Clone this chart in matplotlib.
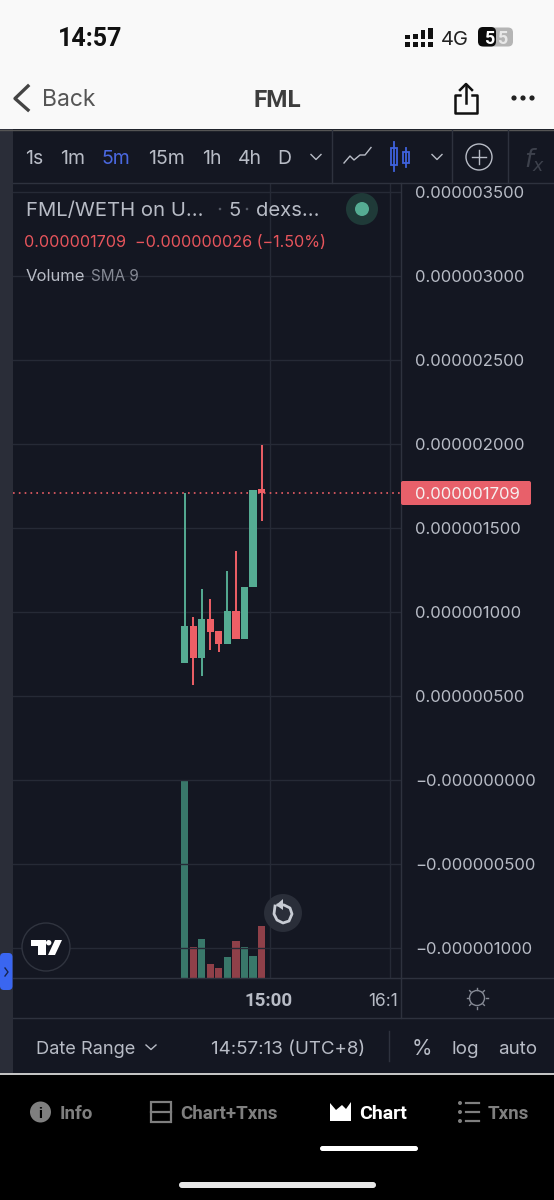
import matplotlib
matplotlib.use("Agg")
import matplotlib.pyplot as plt
from matplotlib.patches import Rectangle, Circle, FancyBboxPatch, Polygon
from matplotlib.ticker import FuncFormatter

plt.rcParams['font.family'] = ['Inter', 'DejaVu Sans']

# prices in millionths
opens = [0.695, 0.918, 0.728, 0.958, 0.885, 0.808, 1.004, 0.841, 1.151, 1.735]
closes = [0.918, 0.728, 0.958, 0.883, 0.808, 1.004, 0.841, 1.151, 1.729, 1.709]
highs = [1.708, 0.968, 1.135, 1.076, 0.885, 1.246, 1.363, 1.151, 1.729, 1.992]
lows = [0.695, 0.565, 0.619, 0.774, 0.764, 0.808, 0.841, 0.841, 1.151, 1.540]
volumes = [100, 15.5, 19.5, 6.9, 5.2, 10.6, 18.5, 15.5, 11.1, 26.3]
last_price = 1.709

price_ticks = [-1.0, -0.5, 0.0, 0.5, 1.0, 1.5, 2.0, 2.5, 3.0, 3.5]
time_ticks = [10, 24]

BG = '#141722'
GRID = '#262a36'
LINE = '#2e323e'
GREEN = '#55ac93'
RED = '#ee5f66'
VOL_GREEN = '#39786a'
VOL_RED = '#8f4049'
TXT = '#b8bcc6'
BOLD = ['Roboto', 'DejaVu Sans']
W, H = 554, 1200


def px_axes(zorder):
    a = fig.add_axes([0, 0, 1, 1], zorder=zorder)
    a.set_xlim(0, W)
    a.set_ylim(H, 0)
    a.axis('off')
    a.patch.set_alpha(0)
    return a


def label(a, x, y, s, size=13, color=TXT, ha='left', weight='normal', **kw):
    if weight == 'bold':
        kw['family'] = BOLD
    a.text(x, y, s, fontsize=size, color=color, ha=ha, va='center_baseline', weight=weight, **kw)


fig = plt.figure(figsize=(W / 100, H / 100), dpi=100, facecolor='#000000')

# page chrome behind the chart
bg = px_axes(0)
bg.add_patch(Rectangle((0, 0), W, 129, color='#f9f9f9', lw=0))
bg.add_patch(Rectangle((0, 129), W, 945, color=BG, lw=0))
bg.add_patch(Rectangle((0, 129), 13, 945, color='#2a2d38', lw=0))
bg.add_patch(Rectangle((0, 1073), W, 2, color='#c4c4c4', lw=0))
bg.plot([0, W], [129.5, 129.5], color='#555555', lw=1)

# chart, laid out so the scale matches the pixel rows of the screenshot
left, right, top, bottom = 13, 401, 183, 978
pos = [left / W, 1 - bottom / H, (right - left) / W, (bottom - top) / H]
ax = fig.add_axes(pos, zorder=2)
ax.patch.set_alpha(0)
ax.set_xlim((left - 184.7) / 8.54, (right - 184.7) / 8.54)
ax.set_ylim((780 - bottom) / 168, (780 - top) / 168)
ax.set_yticks(price_ticks)
ax.yaxis.tick_right()
ax.yaxis.set_major_formatter(FuncFormatter(
    lambda v, p: ('\u2212' if v <= 0 else '') + '%.9f' % (abs(v) / 1e6)))
ax.set_xticks(time_ticks)
ax.set_xticklabels([])
ax.tick_params(axis='y', length=0, pad=10, labelsize=12, labelcolor=TXT)
ax.tick_params(axis='x', length=0)
ax.grid(True, color=GRID, lw=1)
ax.set_axisbelow(True)
for s in ['top', 'left']:
    ax.spines[s].set_visible(False)
for s in ['right', 'bottom']:
    ax.spines[s].set_color(LINE)
    ax.spines[s].set_linewidth(1)

xs = list(range(len(opens)))
ax_vol = fig.add_axes(pos, zorder=1.5, sharex=ax)
ax_vol.patch.set_alpha(0)
ax_vol.axis('off')
ax_vol.set_ylim(0, 100 * (bottom - top) / 198)
vol_colors = [VOL_GREEN if c >= o else VOL_RED for o, c in zip(opens, closes)]
ax_vol.bar(xs, volumes, width=0.84, color=vol_colors, lw=0)

colors = [GREEN if c >= o else RED for o, c in zip(opens, closes)]
ax.vlines(xs, lows, highs, colors=colors, lw=1.4, zorder=3)
ax.bar(xs, [abs(c - o) for o, c in zip(opens, closes)],
       bottom=[min(o, c) for o, c in zip(opens, closes)],
       width=0.85, color=colors, lw=0, zorder=4)
ax.axhline(last_price, color=RED, lw=1.2, ls=(0, (1, 2.5)), zorder=2)

# things on top of the chart
fg = px_axes(5)

# status bar
label(fg, 90, 37, '14:57', size=18, color='#111111', ha='center', weight='bold')
upper = [(35, 39), (34, 39), (30, 39), (28, 39)]
for i, (y0, y1) in enumerate(upper):
    cx = 407.5 + i * 7.7
    fg.add_patch(Rectangle((cx - 2.4, y0), 4.8, y1 - y0, color='#111111', lw=0))
    fg.add_patch(Rectangle((cx - 2.4, 42), 4.8, 5, color='#111111', lw=0))
label(fg, 455, 38, '4G', size=14.5, color='#222222', ha='center')
fg.add_patch(FancyBboxPatch((480, 27.5), 33, 19, boxstyle='round,pad=0,rounding_size=5',
                            color='#b5b5b5', lw=0))
fg.add_patch(FancyBboxPatch((478, 27), 18, 19.5, boxstyle='round,pad=0,rounding_size=5',
                            color='#0c0c0c', lw=0))
label(fg, 489, 37.5, '5', size=13, color='white', ha='center', weight='bold')
label(fg, 502, 37.5, '5', size=13, color='#e8e8e8', ha='center', weight='bold')

# nav bar
fg.plot([28, 15, 28], [86, 98.5, 110], color='#444444', lw=2.4)
label(fg, 42, 98, 'Back', size=16.5, color='#555555')
label(fg, 277, 98, 'FML', size=17.5, color='#3d3d3d', ha='center', weight='bold')
fg.plot([460, 455, 455, 477, 477, 472], [95, 95, 112.5, 112.5, 95, 95], color='#111111', lw=1.8)
fg.plot([466, 466], [103, 85], color='#111111', lw=1.8)
fg.plot([460, 466, 472], [90, 84, 90], color='#111111', lw=1.8)
for cx in [514, 523, 532]:
    fg.add_patch(Circle((cx, 98), 2.6, color='#222222', lw=0))

# toolbar
for s, cx in [('1s', 34), ('1m', 73), ('5m', 116), ('15m', 166), ('1h', 212), ('4h', 250), ('D', 284)]:
    label(fg, cx, 157, s, size=14, color='#4a68e0' if s == '5m' else TXT, ha='center')
for cx in [316, 437]:
    fg.plot([cx - 5, cx, cx + 5], [154.5, 159.5, 154.5], color=TXT, lw=1)
for cx in [332, 452, 508]:
    fg.plot([cx, cx], [130, 183], color=LINE, lw=1)
fg.plot([13, W], [183, 183], color=LINE, lw=1)
fg.plot([344, 350, 354, 360, 365, 371], [163, 156, 160, 155, 155, 147.5], color=TXT, lw=1)
fg.plot([394, 394], [142, 171], color='#3f62dd', lw=1.3)
fg.add_patch(Rectangle((391, 148), 6, 17, fill=False, ec='#3f62dd', lw=1.3))
fg.plot([406, 406], [148, 167], color='#3f62dd', lw=1.3)
fg.add_patch(Rectangle((403, 152), 6, 11, fill=False, ec='#3f62dd', lw=1.3))
fg.add_patch(Circle((479, 157), 13, fill=False, ec=TXT, lw=1))
fg.plot([472, 486], [157, 157], color=TXT, lw=1)
fg.plot([479, 479], [150, 164], color=TXT, lw=1)
label(fg, 535, 157, '$f_x$', size=18, color='#3d414c', ha='center')

# legend block
label(fg, 26, 209, 'FML/WETH on U...', size=14.6, color=TXT)
fg.add_patch(Circle((220, 209), 1.3, color='#555a66', lw=0))
label(fg, 235, 209, '5', size=14.6, color=TXT, ha='center')
fg.add_patch(Circle((247, 209), 1.3, color='#555a66', lw=0))
label(fg, 256, 209, 'dexs...', size=14.6, color=TXT)
fg.add_patch(Circle((362, 209), 16, color='#1f3a38', lw=0))
fg.add_patch(Circle((362, 209), 7, color=GREEN, lw=0))
label(fg, 24, 241, '0.000001709  \u22120.000000026 (\u22121.50%)', size=11.6, color='#e8555c')
label(fg, 26, 275, 'Volume', size=12, color=TXT)
label(fg, 91, 275, 'SMA 9', size=11, color='#868a95')

# last price tag
fg.add_patch(FancyBboxPatch((401, 481), 130, 24, boxstyle='round,pad=0,rounding_size=2',
                            color='#e8606a', lw=0))
label(fg, 415, 493, '0.000001709', size=12, color='#f6f0f0')

# time axis
fg.plot([13, W], [1018, 1018], color=LINE, lw=1)
fg.plot([401, 401], [978, 1018], color=LINE, lw=1)
fg.plot([401, W], [978, 978], color=LINE, lw=1)
label(fg, 269, 999, '15:00', size=13.5, color=TXT, ha='center', weight='bold')
label(fg, 368, 999, '16:1', size=12.5, color=TXT)
fg.add_patch(Circle((477, 998), 7.5, fill=False, ec='#868a95', lw=1))
for dx, dy in [(0, -10), (0, 10), (-10, 0), (10, 0), (-7, -7), (7, -7), (-7, 7), (7, 7)]:
    fg.plot([477 + dx * 0.85, 477 + dx * 1.05], [998 + dy * 0.85, 998 + dy * 1.05], color='#868a95', lw=1)

# bottom toolbar
label(fg, 36, 1047, 'Date Range', size=13.1, color=TXT)
fg.plot([146, 151, 156], [1045, 1049.5, 1045], color=TXT, lw=1)
label(fg, 211, 1047, '14:57:13 (UTC+8)', size=13.5, color=TXT)
fg.plot([389, 389], [1031, 1061], color=LINE, lw=1)
label(fg, 422, 1047, '%', size=15, color=TXT, ha='center')
label(fg, 465, 1047, 'log', size=13.5, color=TXT, ha='center')
label(fg, 518, 1047, 'auto', size=13.5, color=TXT, ha='center')

# floating buttons and the blue side tab
fg.add_patch(FancyBboxPatch((0, 953), 12.5, 37, boxstyle='round,pad=0,rounding_size=4',
                            color='#3a66f0', lw=0))
fg.plot([5, 8, 5], [968, 972, 976], color='#16244f', lw=1)
fg.add_patch(Circle((46, 947), 24, fc=BG, ec='#30343f', lw=1))
fg.add_patch(Polygon([(31, 940), (46, 940), (46, 955), (38, 955), (38, 946), (31, 946)], color='white', lw=0))
fg.add_patch(Circle((48.7, 942.7), 2.7, color='white', lw=0))
fg.add_patch(Polygon([(55, 940), (62, 940), (55, 955), (48, 955)], color='white', lw=0))
fg.add_patch(Circle((283, 913), 19, color='#2a2e39', lw=0))
fg.plot([275, 274, 277, 283, 289, 292, 290, 284, 278], [906, 914, 920, 923, 921, 914, 908, 905, 905],
        color='#c8ccd4', lw=2)
fg.add_patch(Polygon([(283, 899), (283, 910), (276, 905)], color='#c8ccd4', lw=0))

# tab bar
GREY = '#7f7f7f'
fg.add_patch(Circle((40.5, 1112), 10.5, color=GREY, lw=0))
label(fg, 40.5, 1112, 'i', size=11, color='#000000', ha='center', weight='bold')
label(fg, 60, 1112, 'Info', size=13.5, color=GREY, weight='bold')
fg.add_patch(Rectangle((151, 1102), 20, 20, fill=False, ec=GREY, lw=1.6))
fg.plot([151, 171], [1112, 1112], color=GREY, lw=1.6)
label(fg, 180, 1112, 'Chart+Txns', size=13.5, color=GREY, weight='bold')
fg.add_patch(Polygon([(330, 1121), (330, 1103), (336, 1110), (342, 1105), (346, 1109), (351, 1102), (351, 1121)],
                     color='white', lw=0))
label(fg, 359, 1112, 'Chart', size=14, color='white', weight='bold')
for dy in [1103, 1112, 1121]:
    fg.add_patch(Circle((460, dy), 2, color=GREY, lw=0))
    fg.plot([466, 479], [dy, dy], color=GREY, lw=1.6)
label(fg, 488, 1112, 'Txns', size=13.5, color=GREY, weight='bold')
fg.add_patch(FancyBboxPatch((320, 1146), 98, 5, boxstyle='round,pad=0,rounding_size=2.5', color='white', lw=0))
fg.add_patch(FancyBboxPatch((179, 1182), 197, 6, boxstyle='round,pad=0,rounding_size=3', color='#e8e8e8', lw=0))

fig.savefig('out.png', dpi=100, facecolor=fig.get_facecolor())
